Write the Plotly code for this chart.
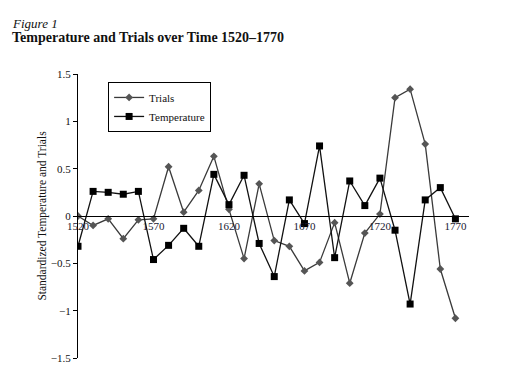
import plotly.graph_objects as go

years = list(range(1520, 1771, 10))
trials = [0.0, -0.10, -0.03, -0.24, -0.04, -0.03, 0.52, 0.04, 0.27, 0.63,
          0.07, -0.45, 0.34, -0.26, -0.32, -0.58, -0.49, -0.07, -0.71, -0.18,
          0.02, 1.25, 1.34, 0.76, -0.56, -1.08]
temperature = [-0.32, 0.26, 0.25, 0.23, 0.26, -0.46, -0.31, -0.13, -0.32, 0.44,
               0.12, 0.43, -0.29, -0.64, 0.17, -0.08, 0.74, -0.44, 0.37, 0.11,
               0.40, -0.15, -0.93, 0.17, 0.30, -0.03]
x_ticks = [1520, 1570, 1620, 1670, 1720, 1770]
y_ticks = [-1.5, -1, -0.5, 0, 0.5, 1, 1.5]
y_ticklabels = ["\u22121.5", "\u22121", "\u22120.5", "0", "0.5", "1", "1.5"]
fig_label = "Figure 1"
title_text = "Temperature and Trials over Time 1520\u20131770"
y_title = "Standardized Temperature and Trials"

FONT = "Liberation Serif"
W, H = 498, 380
L, R, T, B = 70, 37, 66, 30
PW, PH = W - L - R, H - T - B

fig = go.Figure()
fig.add_trace(go.Scatter(
    x=years, y=trials, name="Trials", mode="lines+markers",
    line=dict(color="#3a3a3a", width=1.3),
    marker=dict(symbol="diamond", size=6, color="#555555"),
))
fig.add_trace(go.Scatter(
    x=years, y=temperature, name="Temperature", mode="lines+markers",
    line=dict(color="#111111", width=1.3),
    marker=dict(symbol="square", size=7, color="#000000"),
))

fig.add_annotation(
    text=f"<i>{fig_label}</i>", xref="paper", yref="paper",
    x=(2 - L) / PW, y=1 + (T - 15.5) / PH, xanchor="left", yanchor="middle",
    showarrow=False, font=dict(family=FONT, size=13, color="#111111"),
)
fig.add_annotation(
    text=f"<b>{title_text}</b>", xref="paper", yref="paper",
    x=(2 - L) / PW, y=1 + (T - 29.5) / PH, xanchor="left", yanchor="middle",
    showarrow=False, font=dict(family=FONT, size=14, color="#111111"),
)

fig.update_layout(
    width=W, height=H,
    margin=dict(l=L, r=R, t=T, b=B),
    paper_bgcolor="white", plot_bgcolor="white",
    font=dict(family=FONT, size=11, color="#111111"),
    showlegend=True,
    legend=dict(
        x=0.077, y=0.972, xanchor="left", yanchor="top",
        bordercolor="black", borderwidth=1, bgcolor="white",
        font=dict(family=FONT, size=11, color="#111111"),
        tracegroupgap=0, itemwidth=30,
    ),
    xaxis=dict(
        range=[1520, 1779], tickvals=x_ticks, ticktext=[str(v) for v in x_ticks],
        showgrid=False, zeroline=False, showline=True, linecolor="black", linewidth=1,
        ticks="", anchor="free", position=0.5, automargin=False,
        tickfont=dict(family=FONT, size=11, color="#1a1a33"),
    ),
    yaxis=dict(
        range=[-1.5, 1.5], tickvals=y_ticks, ticktext=y_ticklabels,
        showgrid=False, zeroline=False, showline=True, linecolor="black", linewidth=1,
        ticks="outside", ticklen=4, tickcolor="black", automargin=False,
        tickfont=dict(family=FONT, size=11, color="#111111"),
        title=dict(text=y_title,
                   font=dict(family=FONT, size=11.5, color="#111111"), standoff=1),
    ),
)

fig.write_html("out.html")
